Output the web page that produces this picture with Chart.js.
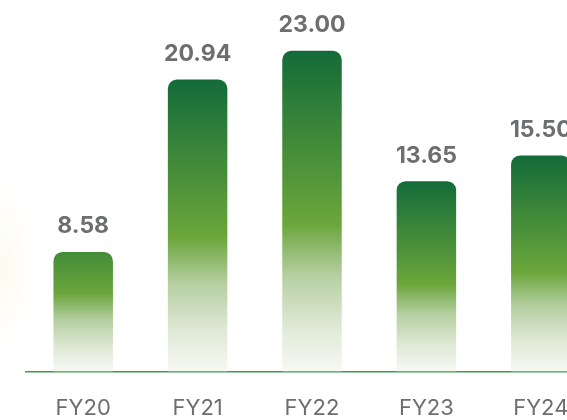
<!DOCTYPE html>
<html>
<head>
<meta charset="utf-8">
<script src="https://cdn.jsdelivr.net/npm/chart.js@4"></script>
<style>
  html, body { margin: 0; padding: 0; overflow: hidden; }
  body {
    width: 567px; height: 420px;
    background: radial-gradient(ellipse 40px 90px at 0px 265px, #fcfbf0 0%, #ffffff 100%);
  }
  #wrap { position: absolute; left: 0; top: 0; width: 598px; height: 446px; }
</style>
</head>
<body>
<div id="wrap"><canvas id="fy-chart"></canvas></div>
<script>
const years = ["FY20", "FY21", "FY22", "FY23", "FY24"];
const values = [8.58, 20.94, 23.00, 13.65, 15.50];

const labelColor = "#6d6e71";

// per bar gradient: dark green top, light green middle, fading to white
// short bars use a minimum gradient length so their tops come out lighter
function barGradient(context) {
    const chart = context.chart;
    const area = chart.chartArea;
    if (!area) return "#4c8f3c";
    const top = chart.scales.y.getPixelForValue(values[context.dataIndex]);
    const start = Math.min(top, area.bottom - 170);
    const g = chart.ctx.createLinearGradient(0, start, 0, area.bottom);
    g.addColorStop(0, "#136b38");
    g.addColorStop(0.54, "#6ba63b");
    g.addColorStop(0.7, "#b6cfa2");
    g.addColorStop(0.86, "#dfe9d6");
    g.addColorStop(1, "#f7f9f4");
    return g;
}

const valueLabels = {
    id: "valueLabels",
    afterDatasetsDraw(chart) {
        const ctx = chart.ctx;
        const meta = chart.getDatasetMeta(0);
        ctx.save();
        ctx.font = "bold 23px Inter, 'Open Sans', sans-serif";
        ctx.fillStyle = labelColor;
        ctx.textAlign = "center";
        ctx.textBaseline = "bottom";
        meta.data.forEach((bar, i) => {
            ctx.fillText(values[i].toFixed(2), bar.x, bar.y - 14);
        });
        ctx.restore();
    }
};

const ctx = document.getElementById("fy-chart").getContext("2d");
new Chart(ctx, {
    type: "bar",
    data: {
        labels: years,
        datasets: [{
            data: values,
            backgroundColor: barGradient,
            borderRadius: { topLeft: 9, topRight: 9 },
            borderSkipped: "start",
            categoryPercentage: 1,
            barPercentage: 0.52
        }]
    },
    options: {
        responsive: true,
        maintainAspectRatio: false,
        animation: false,
        layout: { padding: { left: 26, top: 9, right: 0, bottom: 0 } },
        plugins: { legend: { display: false }, tooltip: { enabled: false } },
        scales: {
            x: {
                grid: { display: true, color: "transparent", drawTicks: false },
                border: { display: true, color: "#3f9a4f", width: 1.5 },
                ticks: {
                    color: labelColor,
                    padding: 24,
                    font: { family: "Inter, 'Open Sans', sans-serif", size: 22 }
                }
            },
            y: {
                display: false,
                min: 0,
                max: 26
            }
        }
    },
    plugins: [valueLabels]
});
</script>
</body>
</html>
